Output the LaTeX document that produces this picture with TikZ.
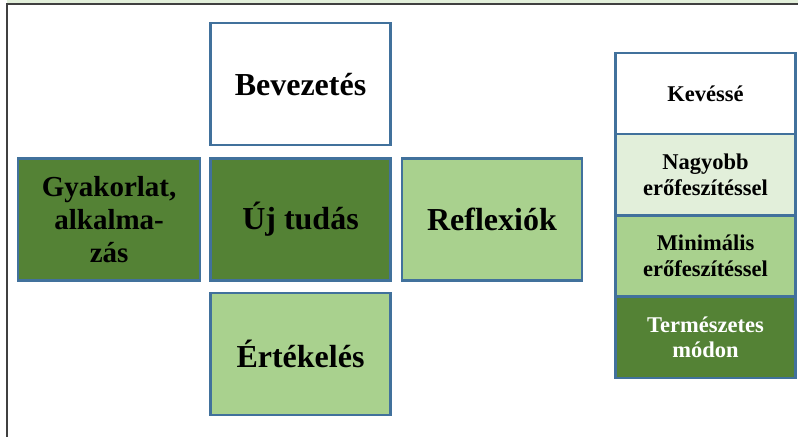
\documentclass[tikz,border=0pt]{standalone}
\usepackage{fontspec}
\setmainfont{Liberation Serif}
\usetikzlibrary{positioning}
\definecolor{darkgreen}{HTML}{548235}
\definecolor{lightgreen}{HTML}{A9D18E}
\definecolor{palegreen}{HTML}{E2EFDA}
\definecolor{borderblue}{HTML}{41719C}
\definecolor{framegray}{HTML}{404040}

\begin{document}
\begin{tikzpicture}[x=0.5pt, y=-0.5pt,
    phase/.style={rectangle, draw=borderblue, line width=1.2pt, outer sep=0pt, minimum width=90pt, minimum height=61pt, align=center, font=\bfseries\fontsize{16}{18}\selectfont},
    level/.style={rectangle, draw=borderblue, line width=1.2pt, outer sep=0pt, minimum width=90pt, minimum height=40.6pt, align=center, font=\bfseries\fontsize{11.25}{12.8}\selectfont}
]
\useasboundingbox (0,0) rectangle (798,437);

% Frame
\fill[palegreen] (7,0) rectangle (798,4);
\draw[framegray, line width=1pt] (798,4) -- (7,4) -- (7,437);

% Phases
\node[phase, fill=darkgreen] (uj) at (300.5,219.5) {Új tudás};
\node[phase, fill=white, above=6.6pt of uj] (bevezetes) {Bevezetés};
\node[phase, fill=lightgreen, below=6.4pt of uj] (ertekeles) {Értékelés};
\node[phase, fill=darkgreen, minimum width=91pt, left=5.2pt of uj, font=\bfseries\fontsize{14.5}{16.5}\selectfont] (gyakorlat) {Gyakorlat,\\alkalma-\\zás};
\node[phase, fill=lightgreen, right=5.75pt of uj] (reflexiok) {Reflexiók};

% Levels
\node[level, fill=white] (kevesse) at (705.5,93.6) {Kevéssé};
\node[level, fill=palegreen, below=0pt of kevesse] (nagyobb) {Nagyobb\\erőfeszítéssel};
\node[level, fill=lightgreen, below=0pt of nagyobb] (minimalis) {Minimális\\erőfeszítéssel};
\node[level, fill=darkgreen, text=white, below=0pt of minimalis] (termeszetes) {Természetes\\módon};

\end{tikzpicture}
\end{document}
